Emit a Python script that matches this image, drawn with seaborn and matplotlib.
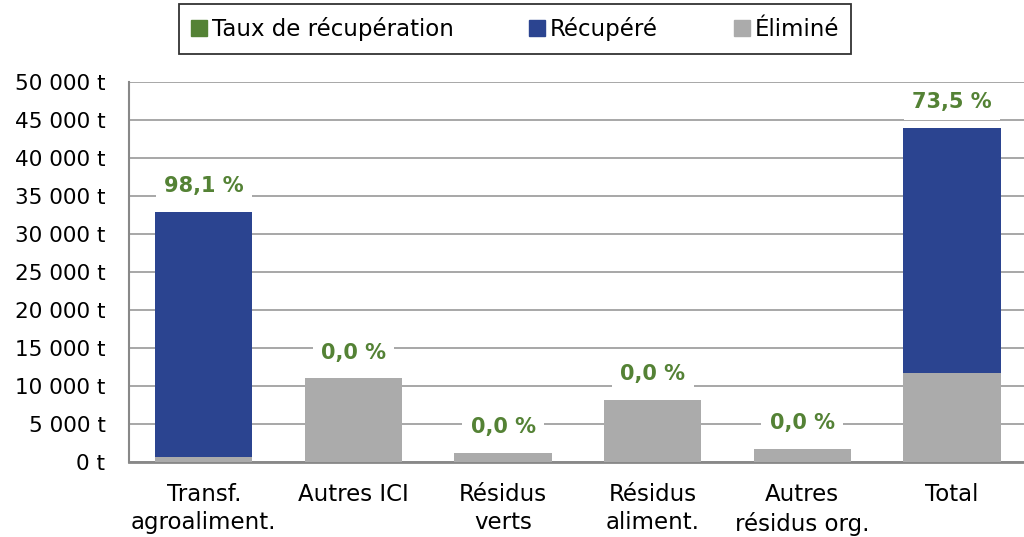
import seaborn as sns
import matplotlib.pyplot as plt
import pandas as pd
from matplotlib.patches import Patch

CATEGORIES = ['Transf.\nagroaliment.', 'Autres ICI', 'Résidus\nverts',
              'Résidus\naliment.', 'Autres\nrésidus org.', 'Total']
RECUPERE = [32300, 0, 0, 0, 0, 32350]
ELIMINE = [620, 11000, 1200, 8150, 1700, 11650]
TAUX = ['98,1 %', '0,0 %', '0,0 %', '0,0 %', '0,0 %', '73,5 %']
YTICKS = [0, 5000, 10000, 15000, 20000, 25000, 30000, 35000, 40000, 45000, 50000]

BLUE = '#2b4490'
GRAY = '#ababab'
GREEN = '#548235'


def fmt_t(v):
    return f'{v:,}'.replace(',', ' ') + ' t'


def make_plot():
    sns.set_theme(style='white')
    plt.rcParams['font.family'] = ['DejaVu Sans']
    plt.rcParams['text.color'] = 'black'
    plt.rcParams['xtick.color'] = 'black'
    plt.rcParams['ytick.color'] = 'black'

    data = pd.DataFrame({'cat': CATEGORIES, 'rec': RECUPERE, 'eli': ELIMINE})
    data['tot'] = data['rec'] + data['eli']

    fig = plt.figure(figsize=(10.24, 5.37), dpi=100)
    ax = fig.add_axes([129 / 1024, 75 / 537, 1 - 129 / 1024 + 0.01, 380 / 537])

    sns.barplot(x='cat', y='tot', data=data, color=BLUE, width=0.65,
                saturation=1, linewidth=0, ax=ax, zorder=2)
    sns.barplot(x='cat', y='eli', data=data, color=GRAY, width=0.65,
                saturation=1, linewidth=0, ax=ax, zorder=3)

    ax.set_ylim(0, 50000)
    ax.set_xlim(-0.5, 5.55)
    ax.set_yticks(YTICKS)
    ax.set_yticklabels([fmt_t(v) for v in YTICKS], fontsize=15.5)
    for lab in ax.get_xticklabels():
        lab.set_fontsize(16.5)
        lab.set_linespacing(1.3)
    ax.tick_params(axis='x', pad=15, length=0)
    ax.tick_params(axis='y', pad=17, length=0)
    ax.set_xlabel('')
    ax.set_ylabel('')
    ax.yaxis.grid(True, color='#a0a0a0', linewidth=1.3, zorder=0)
    ax.set_axisbelow(True)
    for s in ['top', 'right']:
        ax.spines[s].set_visible(False)
    ax.spines['left'].set_color('#888888')
    ax.spines['left'].set_linewidth(1.5)
    ax.spines['bottom'].set_color('#888888')
    ax.spines['bottom'].set_linewidth(2)

    for i, (t, lab) in enumerate(zip(data['tot'], TAUX)):
        ax.annotate(lab, xy=(i, t), xytext=(0, 18.5), textcoords='offset points',
                    ha='center', va='center', fontsize=15, fontweight='bold',
                    color=GREEN, zorder=5,
                    bbox=dict(facecolor='white', edgecolor='none', pad=6))

    handles = [Patch(color=GREEN, label='Taux de récupération'),
               Patch(color=BLUE, label='Récupéré'),
               Patch(color=GRAY, label='Éliminé')]
    leg = fig.legend(handles=handles, loc='center', bbox_to_anchor=(0.503, 0.946),
                     ncol=3, fontsize=16.5, frameon=True, fancybox=False,
                     handlelength=0.7, handleheight=0.7, handletextpad=0.2,
                     columnspacing=3.3, borderpad=0.55, borderaxespad=0)
    leg.get_frame().set_edgecolor('black')
    leg.get_frame().set_linewidth(1.3)

    fig.savefig('out.png', dpi=100)


if __name__ == '__main__':
    make_plot()
